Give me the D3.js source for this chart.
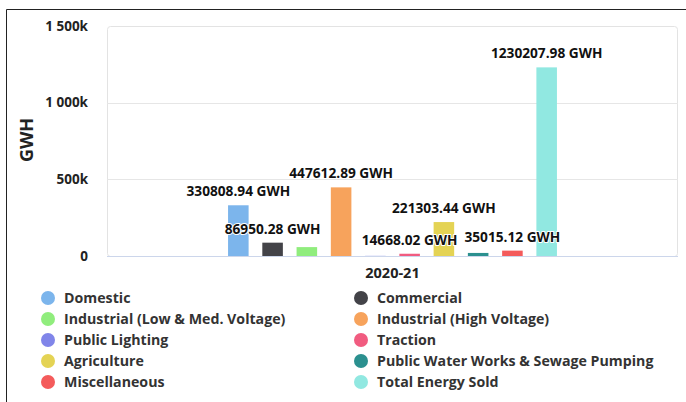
<!DOCTYPE html>
<html>
<head>
<meta charset="utf-8">
<script src="https://cdn.jsdelivr.net/npm/d3@7"></script>
<style>
  body { margin: 0; background: #fff; }
  svg { display: block; font-family: "Open Sans", sans-serif; }
</style>
</head>
<body>
<div id="chart"></div>
<script>
// chart data
var categories = ["2020-21"];
var seriesNames = [
  "Domestic", "Commercial", "Industrial (Low & Med. Voltage)", "Industrial (High Voltage)",
  "Public Lighting", "Traction", "Agriculture", "Public Water Works & Sewage Pumping",
  "Miscellaneous", "Total Energy Sold"
];
var seriesValues = [330808.94, 86950.28, 58000, 447612.89, 1000, 14668.02, 221303.44, 20000, 35015.12, 1230207.98];
var yTicks = [0, 500000, 1000000, 1500000];
var palette = ["#7cb5ec", "#434348", "#90ed7d", "#f7a35c", "#8085e9", "#f15c80", "#e4d354", "#2b908f", "#f45b5b", "#91e8e1"];

var W = 686, H = 402;
var plot = { left: 107, right: 678, top: 26, bottom: 256 };

var svg = d3.select("#chart").append("svg")
    .attr("width", W)
    .attr("height", H);

// frame of the cropped picture
svg.append("path")
    .attr("d", "M6.5," + (H + 2) + "V9.5H" + (W + 2))
    .attr("fill", "none")
    .attr("stroke", "#222")
    .attr("stroke-width", 1);

// scales
var x0 = d3.scaleBand().domain(categories).range([plot.left, plot.right])
    .paddingInner(0.4).paddingOuter(0.2);
var x1 = d3.scaleBand().domain(seriesNames).range([0, x0.bandwidth()])
    .paddingInner(0.4).paddingOuter(0.2);
var y = d3.scaleLinear().domain([0, 1500000]).range([plot.bottom, plot.top]);

var fmt = d3.formatLocale({ decimal: ".", thousands: " ", grouping: [3], currency: ["", ""] }).format(",");

// plot border
svg.append("rect")
    .attr("x", plot.left + 0.5).attr("y", plot.top + 0.5)
    .attr("width", plot.right - plot.left - 1).attr("height", plot.bottom - plot.top)
    .attr("rx", 3)
    .attr("fill", "none")
    .attr("stroke", "#e3e3e3");

// grid + y labels
var yAxis = svg.append("g");
yAxis.selectAll("line").data(yTicks.filter(function(d) { return d > 0 && d < 1500000; }))
  .enter().append("line")
    .attr("x1", plot.left).attr("x2", plot.right)
    .attr("y1", function(d) { return Math.round(y(d)) + 0.5; })
    .attr("y2", function(d) { return Math.round(y(d)) + 0.5; })
    .attr("stroke", "#e6e6e6");
yAxis.selectAll("text").data(yTicks)
  .enter().append("text")
    .attr("x", 88)
    .attr("y", function(d) { return y(d); })
    .attr("dy", "0.35em")
    .attr("text-anchor", "end")
    .attr("font-size", 13.5)
    .attr("font-weight", 700)
    .attr("fill", "#222")
    .text(function(d) { return d === 0 ? "0" : fmt(d / 1000) + "k"; });

svg.append("text")
    .attr("transform", "translate(27,140) rotate(-90)")
    .attr("text-anchor", "middle")
    .attr("dy", "0.35em")
    .attr("font-size", 18)
    .attr("font-weight", 700)
    .attr("fill", "#222")
    .text("GWH");

// x axis line + category
svg.append("line")
    .attr("x1", plot.left).attr("x2", plot.right)
    .attr("y1", plot.bottom + 0.5).attr("y2", plot.bottom + 0.5)
    .attr("stroke", "#ccd6eb");
svg.selectAll(".cat").data(categories)
  .enter().append("text")
    .attr("class", "cat")
    .attr("x", function(d) { return x0(d) + x0.bandwidth() / 2; })
    .attr("y", 273)
    .attr("dy", "0.35em")
    .attr("text-anchor", "middle")
    .attr("font-size", 14.5)
    .attr("font-weight", 700)
    .attr("fill", "#222")
    .text(function(d) { return d; });

// bars
var points = seriesNames.map(function(name, i) {
  return { name: name, value: seriesValues[i], color: palette[i], cat: categories[0] };
});

svg.append("g").selectAll("rect").data(points)
  .enter().append("rect")
    .attr("x", function(d) { return x0(d.cat) + x1(d.name); })
    .attr("y", function(d) { return y(d.value); })
    .attr("width", x1.bandwidth())
    .attr("height", function(d) { return y(0) - y(d.value); })
    .attr("fill", function(d) { return d.color; });

// data labels, hide the ones that overlap (bigger bars win)
var labels = svg.append("g").selectAll("text").data(points)
  .enter().append("text")
    .attr("x", function(d) { return x0(d.cat) + x1(d.name) + x1.bandwidth() / 2; })
    .attr("y", function(d) { return y(d.value) - 9; })
    .attr("text-anchor", "middle")
    .attr("font-size", 13.7)
    .attr("font-weight", 700)
    .attr("fill", "#111")
    .attr("stroke", "#fff")
    .attr("stroke-width", 2)
    .attr("stroke-linejoin", "round")
    .attr("paint-order", "stroke")
    .text(function(d) { return d.value.toFixed(2) + " GWH"; });

var boxes = [];
labels.each(function(d) {
  var b = this.getBBox();
  d.box = { x: b.x, y: b.y + 3, width: b.width, height: b.height - 6 };
  d.node = this;
});
points.slice().sort(function(a, b) { return b.value - a.value; }).forEach(function(d) {
  var b = d.box;
  var hit = boxes.some(function(o) {
    return b.x < o.x + o.width && o.x < b.x + b.width && b.y < o.y + o.height && o.y < b.y + b.height;
  });
  if (hit) d3.select(d.node).attr("display", "none");
  else boxes.push(b);
});

// legend in two columns
var legend = svg.append("g").selectAll("g").data(points)
  .enter().append("g")
    .attr("transform", function(d, i) {
      return "translate(" + (i % 2 === 0 ? 48 : 361) + "," + (298 + Math.floor(i / 2) * 21) + ")";
    });
legend.append("circle")
    .attr("r", 7)
    .attr("fill", function(d) { return d.color; });
legend.append("text")
    .attr("x", 16)
    .attr("dy", "0.35em")
    .attr("font-size", 14.2)
    .attr("font-weight", 700)
    .attr("fill", "#333")
    .text(function(d) { return d.name; });
</script>
</body>
</html>
